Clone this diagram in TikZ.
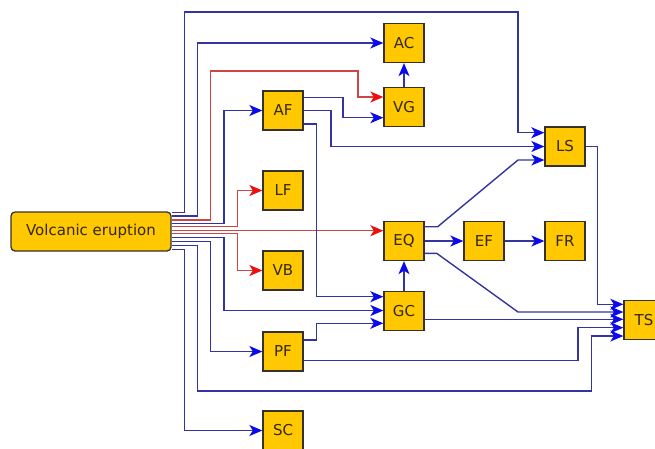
\documentclass[tikz,border=0pt]{standalone}
\usepackage{fontspec}
\setmainfont{DejaVu Sans}
\usetikzlibrary{arrows.meta}
\definecolor{boxfill}{RGB}{255,200,0}
\definecolor{boxline}{RGB}{55,50,40}
\definecolor{txt}{RGB}{50,40,20}
\definecolor{lineblue}{RGB}{52,52,160}
\definecolor{tipblue}{RGB}{10,10,235}
\definecolor{linered}{RGB}{205,70,70}
\definecolor{tipred}{RGB}{235,15,15}
\begin{document}
\begin{tikzpicture}[x=1pt,y=-1pt,
  box/.style={draw=boxline,line width=1.3pt,fill=boxfill,minimum width=40pt,minimum height=39pt,inner sep=0pt,text=txt,font=\fontsize{15}{18}\selectfont},
  rbox/.style={box,rounded corners=4pt,minimum width=160pt},
  bl/.style={draw=lineblue,line width=1.4pt,-{Stealth[length=13pt,width=11pt,inset=3.5pt,color=tipblue]}},
  rd/.style={draw=linered,line width=1.4pt,-{Stealth[length=13pt,width=11pt,inset=3.5pt,color=tipred]}}]
\useasboundingbox (0,0) rectangle (655,448);
% nodes
\node[rbox] (ve) at (91,231.5) {Volcanic eruption};
\node[box] (af) at (283,110.5) {AF};
\node[box] (lf) at (283,190.5) {LF};
\node[box] (vb) at (283,270.5) {VB};
\node[box] (pf) at (283,351.5) {PF};
\node[box] (sc) at (283,430.5) {SC};
\node[box] (ac) at (404,43) {AC};
\node[box] (vg) at (404,107) {VG};
\node[box] (eq) at (404,241) {EQ};
\node[box] (gc) at (404,311) {GC};
\node[box] (ef) at (484,241) {EF};
\node[box] (fr) at (565,241) {FR};
\node[box] (ls) at (565,146.5) {LS};
\node[box] (ts) at (644,320) {TS};
% from volcanic eruption
\draw[bl] (ve.east|-0,212.3) -| (184.3,12) -| (518,132.7) -- (ls.west|-0,132.7);
\draw[bl] (ve.east|-0,216) -| (197.7,43) -- (ac.west);
\draw[rd] (ve.east|-0,220) -| (210.7,71) -| (358,97) -- (vg.west|-0,97);
\draw[bl] (ve.east|-0,223.3) -| (224,110.5) -- (af.west);
\draw[rd] (ve.east|-0,226.7) -| (237.3,190.5) -- (lf.west);
\draw[rd] (ve.east|-0,230.7) -- (eq.west|-0,230.7);
\draw[rd] (ve.east|-0,233.7) -| (237.3,270.5) -- (vb.west);
\draw[bl] (ve.east|-0,237.3) -| (224,310.5) -- (gc.west|-0,310.5);
\draw[bl] (ve.east|-0,241.7) -| (210.7,351.5) -- (pf.west);
\draw[bl] (ve.east|-0,245.7) -| (197.7,391) -| (591.7,336) -- (ts.west|-0,336);
\draw[bl] (ve.east|-0,249.3) -| (184.3,430.5) -- (sc.west);
% from AF
\draw[bl] (af.east|-0,97.7) -| (343,117.7) -- (vg.west|-0,117.7);
\draw[bl] (af.east|-0,110.7) -| (331,146.5) -- (ls.west);
\draw[bl] (af.east|-0,124) -| (316.3,296.7) -- (gc.west|-0,296.7);
% others
\draw[bl] (vg.north) -- (ac.south);
\draw[bl] (gc.north) -- (eq.south);
\draw[bl] (eq.east|-0,226.7) -- (437.7,226.7) -- (518,160) -- (ls.west|-0,160);
\draw[bl] (eq.east) -- (ef.west);
\draw[bl] (ef.east) -- (fr.west);
\draw[bl] (eq.east|-0,253.3) -- (436.7,253.3) -- (518,312) -- (ts.west|-0,312);
\draw[bl] (ls.east) -| (597.7,304.3) -- (ts.west|-0,304.3);
\draw[bl] (gc.east|-0,319.3) -- (ts.west|-0,319.3);
\draw[bl] (pf.east|-0,340) -| (316.7,323.3) -- (gc.west|-0,323.3);
\draw[bl] (pf.east|-0,360.7) -| (578,327.7) -- (ts.west|-0,327.7);
\end{tikzpicture}
\end{document}
